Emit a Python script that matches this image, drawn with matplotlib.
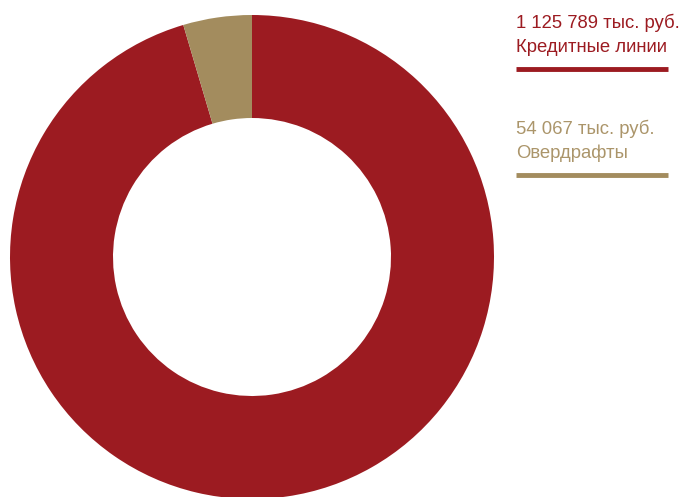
import matplotlib.pyplot as plt

# данные: кредитный портфель, тыс. руб.
values = [1125789, 54067]
amount_labels = ["1 125 789 тыс. руб.", "54 067 тыс. руб."]
names = ["Кредитные линии", "Овердрафты"]
colors = ["#9c1b21", "#a38c5e"]
text_colors = ["#9c1b21", "#ab956a"]

W, H = 692, 497
fig = plt.figure(figsize=(W / 100, H / 100), dpi=100)
ax = fig.add_axes([0, 0, 1, 1])

ax.pie(
    values,
    colors=colors,
    startangle=90,
    counterclock=False,
    center=(252, H - 257),
    radius=242,
    wedgeprops=dict(width=103, linewidth=0),
    frame=True,
)
ax.set_xlim(0, W)
ax.set_ylim(0, H)
ax.set_aspect("equal")
ax.axis("off")

# подписи справа
for i, (amt, nm, c, tc) in enumerate(zip(amount_labels, names, colors, text_colors)):
    y0 = H - 23 - i * 106
    ax.text(516, y0, amt, color=tc, fontsize=13.3, va="center", ha="left",
            family="Liberation Sans")
    ax.text(516, y0 - 24, nm, color=tc, fontsize=13.3, va="center", ha="left",
            family="Liberation Sans")
    ax.plot([516, 668], [y0 - 46, y0 - 46], color=c, lw=3.5,
            solid_capstyle="butt")

fig.savefig("out.png", dpi=100)
